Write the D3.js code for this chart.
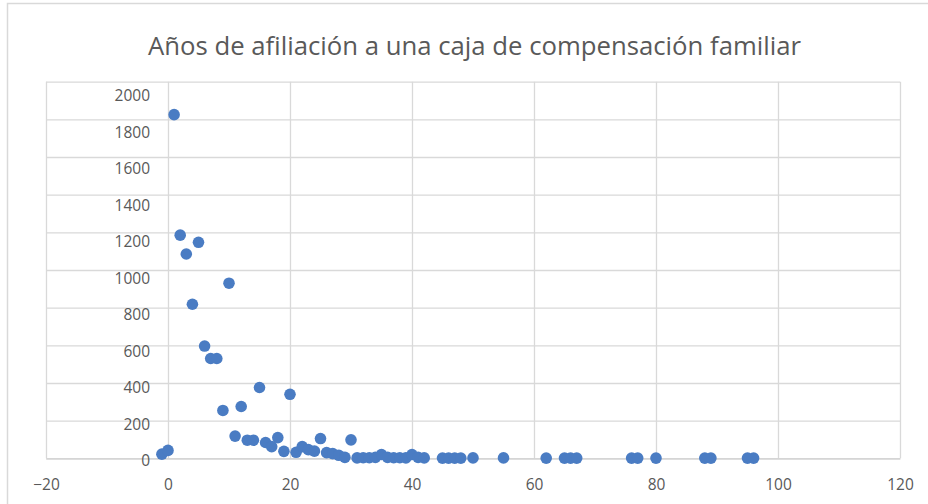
<!DOCTYPE html>
<html>
<head>
<meta charset="utf-8">
<script src="https://cdn.jsdelivr.net/npm/d3@7"></script>
<style>
  html, body { margin: 0; padding: 0; background: #ffffff; }
  svg { display: block; }
</style>
</head>
<body>
<svg id="chart" width="928" height="504"></svg>
<script>
const title = "Años de afiliación a una caja de compensación familiar";

const years = [-1, 0, 1, 2, 3, 4, 5, 6, 7, 8, 9, 10, 11, 12, 13, 14, 15, 16, 17, 18, 19, 20,
  21, 22, 23, 24, 25, 26, 27, 28, 29, 30,
  31, 32, 33, 34, 35, 36, 37, 38, 39, 40, 41, 42,
  45, 46, 47, 48, 50, 55, 62, 65, 66, 67, 76, 77, 80, 88, 89, 95, 96];

const counts = [22, 42, 1825, 1185, 1085, 818, 1147, 596, 530, 530, 254, 930, 118, 275, 96, 96, 376, 84, 62, 110, 37, 340,
  32, 62, 46, 38, 105, 30, 25, 16, 5, 98,
  2, 3, 3, 5, 20, 5, 3, 3, 2, 20, 5, 2,
  1, 1, 1, 1, 2, 2, 1, 1, 1, 1, 1, 1, 1, 1, 1, 1, 1];

const xTicks = [-20, 0, 20, 40, 60, 80, 100, 120];
const yTicks = [0, 200, 400, 600, 800, 1000, 1200, 1400, 1600, 1800, 2000];

const svg = d3.select("#chart");
const font = "'Open Sans', 'Liberation Sans', sans-serif";
const textColor = "#595959";
const gridColor = "#d9d9d9";

// outer chart frame
svg.append("rect")
  .attr("x", 7.5).attr("y", 3.5)
  .attr("width", 940).attr("height", 520)
  .attr("fill", "#fff")
  .attr("stroke", "#d9d9d9").attr("stroke-width", 1.5);

const x = d3.scaleLinear().domain([-20, 120]).range([46, 900]);
const y = d3.scaleLinear().domain([0, 2000]).range([458.3, 81.7]);
// label placement scale for the value axis (labels sit slightly below their gridlines)
const yLabel = d3.scaleLinear().domain([0, 2000]).range([460, 95]);

// horizontal gridlines
const yGrid = d3.axisLeft(y).tickValues(yTicks).tickSize(-(x(120) - x(-20))).tickFormat("");
svg.append("g")
  .attr("transform", `translate(${x(-20)},0)`)
  .call(yGrid)
  .call(g => g.select(".domain").remove())
  .call(g => g.selectAll("line").attr("stroke", gridColor).attr("stroke-width", 1.3));

// vertical gridlines
const xGrid = d3.axisBottom(x).tickValues(xTicks).tickSize(-(y(0) - y(2000))).tickFormat("");
svg.append("g")
  .attr("transform", `translate(0,${y(0)})`)
  .call(xGrid)
  .call(g => g.select(".domain").remove())
  .call(g => g.selectAll("line").attr("stroke", gridColor).attr("stroke-width", 1.3));

// x axis labels
const xAxis = d3.axisBottom(x).tickValues(xTicks).tickSize(0).tickPadding(0).tickFormat(d3.format("d"));
svg.append("g")
  .attr("transform", `translate(0,${y(0)})`)
  .call(xAxis)
  .call(g => g.select(".domain").attr("stroke", "#d0d0d0").attr("stroke-width", 1.3))
  .call(g => g.selectAll("text")
    .attr("y", 32)
    .attr("dy", 0)
    .attr("fill", textColor)
    .style("font-family", font)
    .style("font-size", "15.5px"));

// y axis labels, at x = 0 crossing
const yAxis = d3.axisLeft(yLabel).tickValues(yTicks).tickSize(0).tickPadding(18).tickFormat(d3.format("d"));
svg.append("g")
  .attr("transform", `translate(${x(0)},0)`)
  .call(yAxis)
  .call(g => g.select(".domain").remove())
  .call(g => g.selectAll("text")
    .attr("dy", "0.36em")
    .attr("fill", textColor)
    .style("font-family", font)
    .style("font-size", "15.5px"));

// points
svg.append("g")
  .selectAll("circle")
  .data(years.map((d, i) => ({ x: d, y: counts[i] })))
  .join("circle")
  .attr("cx", d => x(d.x))
  .attr("cy", d => y(d.y))
  .attr("r", 5.8)
  .attr("fill", "#4a7cc3");

// title
const t = svg.append("text")
  .attr("x", 474.5)
  .attr("y", 55)
  .attr("text-anchor", "middle")
  .attr("fill", textColor)
  .style("font-family", font)
  .style("font-size", "22px")
  .text(title);
const w = t.node().getComputedTextLength();
t.style("font-size", (22 * 653 / w).toFixed(2) + "px");
</script>
</body>
</html>
